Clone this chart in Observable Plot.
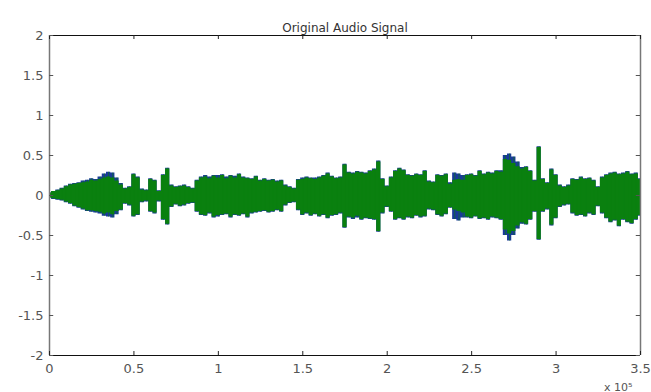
<!DOCTYPE html>
<html>
<head>
<meta charset="utf-8">
<script src="https://cdn.jsdelivr.net/npm/d3@7"></script>
<script src="https://cdn.jsdelivr.net/npm/@observablehq/plot@0.6"></script>
<style>
  html, body { margin: 0; padding: 0; background: #fff; }
  svg { display: block; }
</style>
</head>
<body>
<div id="chart"></div>
<script>
// ---- data: envelope of the audio signal, one value per 2500-sample block ----
const titleText = "Original Audio Signal";
const exponentText = "x 10\u2075";
const blockSize = 2500;

const xTicks = [0, 50000, 100000, 150000, 200000, 250000, 300000, 350000];
const xTickLabels = ["0", "0.5", "1", "1.5", "2", "2.5", "3", "3.5"];
const yTicks = [-2, -1.5, -1, -0.5, 0, 0.5, 1, 1.5, 2];
const yTickLabels = ["-2", "-1.5", "-1", "-0.5", "0", "0.5", "1", "1.5", "2"];

// channel 1 (blue) upper / lower envelope
const blueUpper = [
0.03,0.05,0.07,0.09,0.12,0.14,0.15,0.16,0.18,0.19,
0.21,0.20,0.23,0.27,0.29,0.28,0.22,0.15,0.09,0.11,
0.27,0.23,0.08,0.07,0.21,0.19,0.06,0.26,0.34,0.13,
0.11,0.12,0.13,0.11,0.09,0.19,0.23,0.25,0.23,0.25,
0.25,0.26,0.23,0.25,0.24,0.27,0.23,0.22,0.21,0.24,
0.19,0.21,0.19,0.20,0.18,0.19,0.13,0.11,0.09,0.20,
0.22,0.23,0.22,0.22,0.23,0.25,0.28,0.24,0.22,0.23,
0.39,0.29,0.28,0.30,0.29,0.28,0.31,0.33,0.43,0.21,
0.12,0.23,0.31,0.34,0.32,0.26,0.25,0.27,0.26,0.31,
0.18,0.17,0.26,0.25,0.27,0.16,0.28,0.27,0.25,0.26,
0.27,0.25,0.31,0.27,0.29,0.28,0.31,0.31,0.50,0.52,
0.48,0.42,0.35,0.36,0.31,0.19,0.61,0.21,0.16,0.33,
0.26,0.13,0.11,0.13,0.21,0.20,0.23,0.21,0.22,0.19,
0.11,0.23,0.26,0.28,0.29,0.27,0.28,0.30,0.27,0.28,
0.21];
const blueLower = [
-0.03,-0.05,-0.06,-0.07,-0.09,-0.11,-0.14,-0.16,-0.18,-0.20,
-0.21,-0.22,-0.23,-0.26,-0.27,-0.28,-0.24,-0.19,-0.11,-0.13,
-0.27,-0.25,-0.09,-0.08,-0.21,-0.23,-0.08,-0.31,-0.37,-0.15,
-0.12,-0.14,-0.13,-0.11,-0.10,-0.21,-0.25,-0.26,-0.23,-0.28,
-0.27,-0.25,-0.24,-0.28,-0.25,-0.26,-0.24,-0.28,-0.23,-0.22,
-0.21,-0.20,-0.22,-0.21,-0.19,-0.21,-0.13,-0.10,-0.09,-0.19,
-0.25,-0.23,-0.26,-0.24,-0.27,-0.25,-0.29,-0.26,-0.25,-0.23,
-0.41,-0.28,-0.30,-0.28,-0.31,-0.29,-0.30,-0.31,-0.46,-0.23,
-0.15,-0.21,-0.31,-0.29,-0.31,-0.28,-0.29,-0.26,-0.28,-0.27,
-0.18,-0.19,-0.25,-0.27,-0.24,-0.16,-0.30,-0.32,-0.28,-0.28,
-0.29,-0.27,-0.30,-0.29,-0.31,-0.28,-0.29,-0.31,-0.50,-0.57,
-0.50,-0.42,-0.36,-0.37,-0.31,-0.21,-0.56,-0.21,-0.18,-0.38,
-0.29,-0.15,-0.13,-0.12,-0.23,-0.26,-0.25,-0.27,-0.23,-0.25,
-0.14,-0.23,-0.29,-0.34,-0.32,-0.39,-0.31,-0.34,-0.36,-0.31,
-0.26];

// channel 2 (green) upper / lower envelope
const greenUpper = [
0.03,0.05,0.06,0.08,0.11,0.13,0.14,0.15,0.16,0.17,
0.19,0.18,0.20,0.22,0.23,0.22,0.18,0.13,0.08,0.10,
0.26,0.22,0.07,0.06,0.20,0.18,0.05,0.25,0.33,0.12,
0.10,0.11,0.12,0.10,0.08,0.18,0.22,0.23,0.21,0.24,
0.22,0.25,0.21,0.24,0.22,0.26,0.22,0.21,0.20,0.23,
0.18,0.20,0.18,0.19,0.17,0.18,0.12,0.10,0.08,0.19,
0.20,0.22,0.21,0.20,0.22,0.24,0.27,0.23,0.21,0.22,
0.38,0.28,0.27,0.29,0.28,0.27,0.30,0.32,0.42,0.20,
0.11,0.22,0.30,0.33,0.31,0.25,0.24,0.26,0.25,0.30,
0.17,0.16,0.25,0.24,0.26,0.14,0.19,0.20,0.19,0.25,
0.26,0.24,0.30,0.26,0.28,0.27,0.30,0.29,0.45,0.44,
0.40,0.36,0.33,0.35,0.30,0.18,0.60,0.20,0.15,0.32,
0.25,0.12,0.10,0.12,0.20,0.19,0.22,0.20,0.21,0.18,
0.10,0.22,0.25,0.27,0.28,0.26,0.27,0.29,0.26,0.27,
0.20];
const greenLower = [
-0.03,-0.04,-0.05,-0.06,-0.08,-0.10,-0.13,-0.15,-0.17,-0.19,
-0.19,-0.20,-0.21,-0.23,-0.22,-0.24,-0.20,-0.18,-0.10,-0.12,
-0.26,-0.24,-0.08,-0.07,-0.20,-0.22,-0.07,-0.30,-0.36,-0.14,
-0.11,-0.13,-0.12,-0.10,-0.09,-0.20,-0.24,-0.25,-0.22,-0.27,
-0.25,-0.24,-0.23,-0.27,-0.24,-0.25,-0.23,-0.27,-0.22,-0.21,
-0.20,-0.19,-0.21,-0.20,-0.18,-0.20,-0.12,-0.09,-0.08,-0.18,
-0.24,-0.22,-0.25,-0.23,-0.26,-0.24,-0.28,-0.25,-0.24,-0.22,
-0.40,-0.27,-0.28,-0.26,-0.30,-0.28,-0.29,-0.30,-0.45,-0.22,
-0.14,-0.20,-0.30,-0.28,-0.30,-0.27,-0.28,-0.25,-0.27,-0.26,
-0.17,-0.18,-0.24,-0.26,-0.23,-0.15,-0.18,-0.20,-0.22,-0.27,
-0.28,-0.26,-0.29,-0.28,-0.30,-0.27,-0.28,-0.30,-0.43,-0.48,
-0.45,-0.38,-0.34,-0.36,-0.30,-0.20,-0.55,-0.20,-0.17,-0.37,
-0.28,-0.14,-0.12,-0.11,-0.22,-0.25,-0.24,-0.26,-0.22,-0.24,
-0.13,-0.22,-0.28,-0.33,-0.31,-0.38,-0.30,-0.33,-0.35,-0.30,
-0.25];

// ---- build table ----
const blocks = blueUpper.map((_, i) => ({
  x: i * blockSize,
  bu: blueUpper[i], bl: blueLower[i],
  gu: greenUpper[i], gl: greenLower[i]
}));

const blue = "#1a3a9a";
const green = "#0a800f";
const textColor = "#555";
const font = "DejaVu Sans, sans-serif";
const xMin = xTicks[0], xMax = xTicks[xTicks.length - 1];
const yMin = yTicks[0], yMax = yTicks[yTicks.length - 1];

const plot = Plot.plot({
  width: 651,
  height: 392,
  marginLeft: 49,
  marginRight: 11,
  marginTop: 35,
  marginBottom: 37,
  x: {domain: [xMin, xMax], axis: null},
  y: {domain: [yMin, yMax], axis: null},
  style: {background: "#fff", fontFamily: font},
  marks: [
    // signal
    Plot.areaY(blocks, {x: "x", y1: "bl", y2: "bu", fill: blue, curve: "step"}),
    Plot.areaY(blocks, {x: "x", y1: "gl", y2: "gu", fill: green, curve: "step"}),
    Plot.ruleX(blocks, {x: "x", y1: "bl", y2: "bu", stroke: green, strokeWidth: 1, strokeOpacity: 0.6}),
    // box
    Plot.ruleY([yMin, yMax], {stroke: "#111", strokeWidth: 1.2}),
    Plot.ruleX([xMin, xMax], {stroke: "#777", strokeWidth: 1.5}),
    // inward ticks
    Plot.ruleX(xTicks, {x: d => d, y1: yMin, y2: yMin + 0.05, stroke: "#222"}),
    Plot.ruleX(xTicks, {x: d => d, y1: yMax, y2: yMax - 0.05, stroke: "#222"}),
    Plot.ruleY(yTicks, {y: d => d, x1: xMin, x2: xMin + 2500, stroke: "#555"}),
    Plot.ruleY(yTicks, {y: d => d, x1: xMax, x2: xMax - 2500, stroke: "#555"}),
    // tick labels
    Plot.text(xTicks, {x: d => d, y: yMin, text: (d, i) => xTickLabels[i], dy: 13,
      fontSize: 13, fill: textColor, ariaLabel: "xlabels"}),
    Plot.text(yTicks, {x: xMin, y: d => d, text: (d, i) => yTickLabels[i], dx: -6,
      textAnchor: "end", fontSize: 13, fill: textColor, ariaLabel: "ylabels"}),
    // exponent
    Plot.text([exponentText], {frameAnchor: "bottom-right", dx: -8, dy: 35,
      textAnchor: "end", fontSize: 11, fill: textColor, ariaLabel: "exponent"}),
    // title
    Plot.text([titleText], {frameAnchor: "top", dy: -12, fontSize: 12,
      fill: "#333", ariaLabel: "title"})
  ]
});

const sel = d3.select(plot);
sel.selectAll('g[aria-label="xlabels"] text, g[aria-label="ylabels"] text').attr("letter-spacing", "1px");
sel.selectAll('g[aria-label="title"] text').attr("letter-spacing", "1.6px");
document.getElementById("chart").appendChild(plot);
</script>
</body>
</html>
